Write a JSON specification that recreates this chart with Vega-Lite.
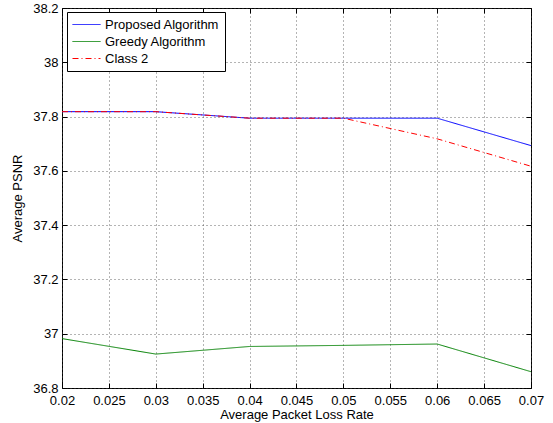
{
  "$schema": "https://vega.github.io/schema/vega-lite/v6.json",
  "width": 469,
  "height": 380,
  "autosize": {"type": "none"},
  "padding": {"left": 62, "top": 8, "right": 22, "bottom": 35},
  "background": "white",
  "config": {
    "view": {"stroke": "black", "strokeWidth": 1},
    "font": "Liberation Sans",
    "axis": {
      "labelFont": "Liberation Sans",
      "titleFont": "Liberation Sans",
      "labelFontSize": 13,
      "titleFontSize": 13,
      "titleFontWeight": "normal",
      "labelColor": "black",
      "titleColor": "black",
      "domain": false,
      "tickColor": "black",
      "tickSize": -5,
      "gridColor": "#444444",
      "gridDash": [1, 3],
      "gridOpacity": 0.8
    }
  },
  "data": {
    "values": [
      {"rate": 0.02, "psnr": 37.818, "series": "Proposed Algorithm"},
      {"rate": 0.03, "psnr": 37.818, "series": "Proposed Algorithm"},
      {"rate": 0.04, "psnr": 37.794, "series": "Proposed Algorithm"},
      {"rate": 0.05, "psnr": 37.794, "series": "Proposed Algorithm"},
      {"rate": 0.06, "psnr": 37.794, "series": "Proposed Algorithm"},
      {"rate": 0.07, "psnr": 37.693, "series": "Proposed Algorithm"},
      {"rate": 0.02, "psnr": 36.982, "series": "Greedy Algorithm"},
      {"rate": 0.03, "psnr": 36.925, "series": "Greedy Algorithm"},
      {"rate": 0.04, "psnr": 36.953, "series": "Greedy Algorithm"},
      {"rate": 0.05, "psnr": 36.957, "series": "Greedy Algorithm"},
      {"rate": 0.06, "psnr": 36.962, "series": "Greedy Algorithm"},
      {"rate": 0.07, "psnr": 36.86, "series": "Greedy Algorithm"},
      {"rate": 0.02, "psnr": 37.818, "series": "Class 2"},
      {"rate": 0.03, "psnr": 37.818, "series": "Class 2"},
      {"rate": 0.04, "psnr": 37.794, "series": "Class 2"},
      {"rate": 0.05, "psnr": 37.794, "series": "Class 2"},
      {"rate": 0.06, "psnr": 37.718, "series": "Class 2"},
      {"rate": 0.07, "psnr": 37.617, "series": "Class 2"}
    ]
  },
  "resolve": {"axis": {"x": "independent", "y": "independent"}},
  "layer": [
    {
      "mark": {"type": "line", "strokeWidth": 1},
      "encoding": {
        "x": {
          "field": "rate", "type": "quantitative",
          "scale": {"domain": [0.02, 0.07], "nice": false},
          "axis": {
            "title": "Average Packet Loss Rate",
            "values": [0.02, 0.025, 0.03, 0.035, 0.04, 0.045, 0.05, 0.055, 0.06, 0.065, 0.07],
            "format": ".3~f",
            "labelPadding": 11,
            "titlePadding": 1,
            "labelFlush": false
          }
        },
        "y": {
          "field": "psnr", "type": "quantitative",
          "scale": {"domain": [36.8, 38.2], "nice": false, "zero": false},
          "axis": {
            "title": "Average PSNR",
            "values": [36.8, 37, 37.2, 37.4, 37.6, 37.8, 38, 38.2],
            "format": ".1~f",
            "labelPadding": 9,
            "titlePadding": 8,
            "labelFlush": false
          }
        },
        "color": {
          "field": "series", "type": "nominal",
          "scale": {
            "domain": ["Proposed Algorithm", "Greedy Algorithm", "Class 2"],
            "range": ["#0000ff", "#008000", "#ff0000"]
          },
          "legend": {
            "title": null,
            "orient": "none",
            "legendX": 5,
            "legendY": 4,
            "fillColor": "white",
            "strokeColor": "black",
            "padding": 5,
            "symbolType": "M-1,0H3",
            "symbolSize": 196,
            "symbolStrokeWidth": 1,
            "labelFont": "Liberation Sans",
            "labelFontSize": 13,
            "labelColor": "black",
            "labelOffset": 18,
            "rowPadding": 2,
            "labelLimit": 200,
            "encode": {
              "symbols": {
                "update": {
                  "stroke": {"scale": "color", "field": "value"},
                  "strokeDash": {"scale": "strokeDash", "field": "value"}
                }
              }
            }
          }
        },
        "strokeDash": {
          "field": "series", "type": "nominal",
          "scale": {
            "domain": ["Proposed Algorithm", "Greedy Algorithm", "Class 2"],
            "range": [[1, 0], [1, 0], [6, 3, 1, 3]]
          },
          "legend": null
        },
        "order": {"field": "series", "sort": "descending"}
      }
    },
    {
      "mark": {"type": "point", "opacity": 0},
      "encoding": {
        "x": {
          "field": "rate", "type": "quantitative",
          "axis": {
            "orient": "top", "labels": false, "title": null, "grid": false,
            "values": [0.02, 0.025, 0.03, 0.035, 0.04, 0.045, 0.05, 0.055, 0.06, 0.065, 0.07]
          }
        },
        "y": {
          "field": "psnr", "type": "quantitative",
          "axis": {
            "orient": "right", "labels": false, "title": null, "grid": false,
            "values": [36.8, 37, 37.2, 37.4, 37.6, 37.8, 38, 38.2]
          }
        }
      }
    }
  ]
}
